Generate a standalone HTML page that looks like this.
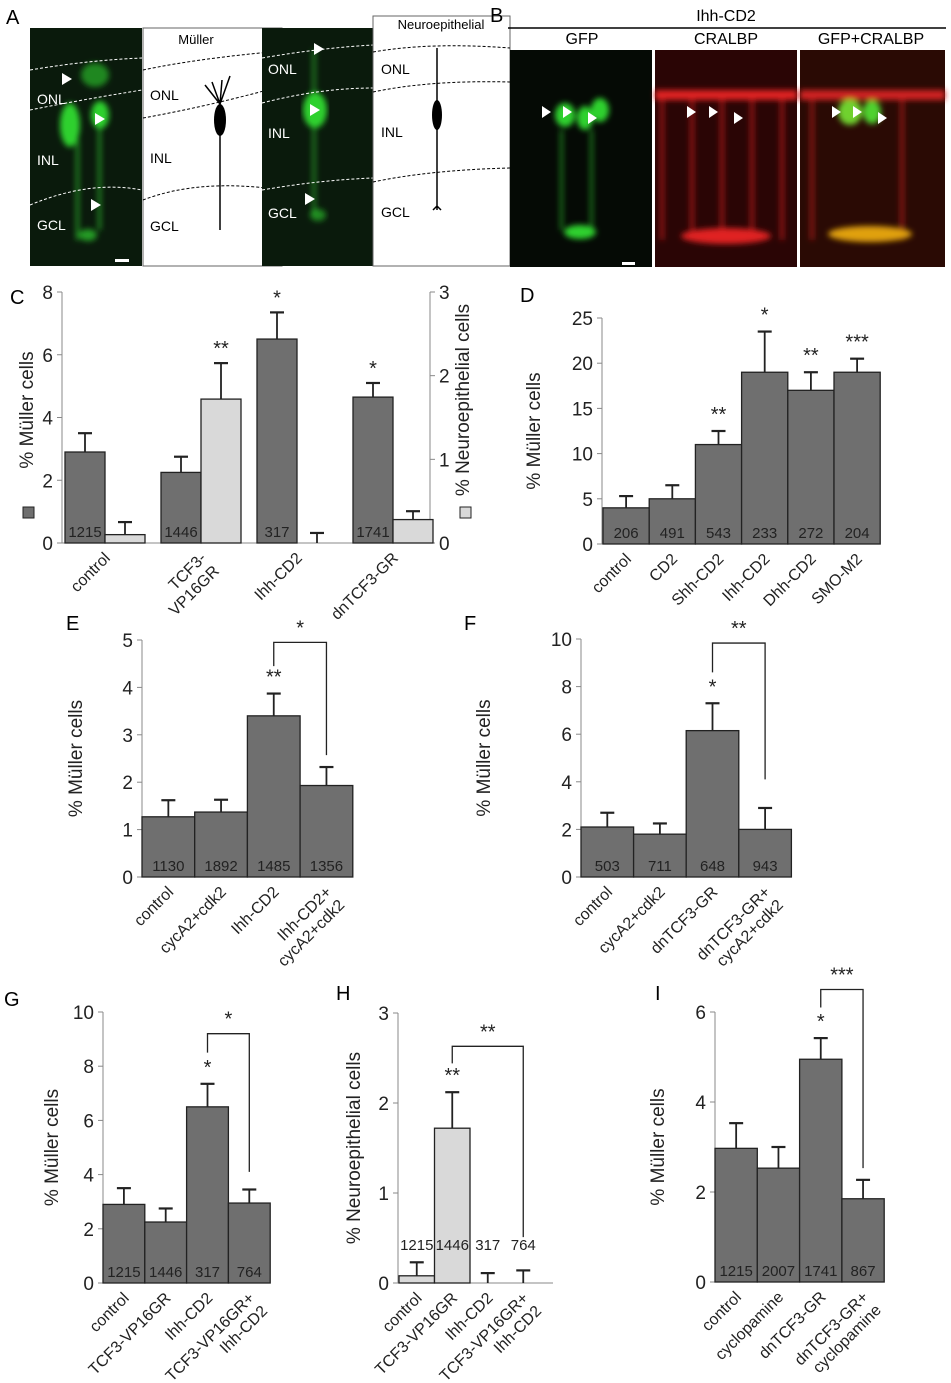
<!DOCTYPE html>
<html><head><meta charset="utf-8"><style>
html,body{margin:0;padding:0;background:#fff}
svg{display:block;font-family:"Liberation Sans",Arial,sans-serif}
</style></head><body>
<svg id="fig" width="951" height="1383" viewBox="0 0 951 1383">
<defs>
<filter id="blur3"><feGaussianBlur stdDeviation="3"/></filter>
</defs>
<!-- Panel A -->
<text x="6" y="24" font-size="20">A</text>
<g>
<rect x="30" y="28" width="112" height="238" fill="#0a1a0c"/>
<g filter="url(#blur3)" fill="#2fd12f">
<ellipse cx="70" cy="125" rx="10" ry="22"/><ellipse cx="100" cy="115" rx="9" ry="14"/><ellipse cx="95" cy="75" rx="14" ry="12" opacity=".6"/>
<rect x="76" y="140" width="3" height="100" opacity=".7"/><rect x="98" y="120" width="3" height="110" opacity=".7"/>
<ellipse cx="88" cy="235" rx="9" ry="6" opacity=".7"/>
</g>
<path d="M30 70 Q90 60 142 58 M30 110 Q80 100 142 90 M30 205 Q90 180 142 190" stroke="#fff" stroke-dasharray="3 2" fill="none"/>
<text x="37" y="104" fill="#fff" font-size="14">ONL</text><text x="37" y="165" fill="#fff" font-size="14">INL</text><text x="37" y="230" fill="#fff" font-size="14">GCL</text>
<polygon points="62,73 72,79 62,85" fill="#fff"/><polygon points="95,113 105,119 95,125" fill="#fff"/><polygon points="91,199 101,205 91,211" fill="#fff"/>
<rect x="115" y="259" width="14" height="3" fill="#fff"/>
</g>
<g>
<rect x="143" y="28" width="139" height="238" fill="#fff" stroke="#666"/>
<text x="196" y="44" font-size="13" text-anchor="middle">Müller</text>
<path d="M143 70 Q200 58 282 51 M143 118 Q210 106 282 86 M143 200 Q200 178 282 190" stroke="#000" stroke-dasharray="3 2" fill="none"/>
<text x="150" y="100" font-size="14">ONL</text><text x="150" y="163" font-size="14">INL</text><text x="150" y="231" font-size="14">GCL</text>
<ellipse cx="220" cy="120" rx="6" ry="16" fill="#000"/><path d="M220 100 L220 230 M220 104 L205 85 M220 104 L212 82 M220 104 L222 80 M220 104 L230 76" stroke="#000" stroke-width="1.5" fill="none"/>
</g>
<g>
<rect x="262" y="28" width="111" height="238" fill="#0a1a0c"/>
<g filter="url(#blur3)" fill="#2fd12f"><ellipse cx="315" cy="110" rx="12" ry="18"/><rect x="312" y="50" width="4" height="60" opacity=".5"/><rect x="312" y="125" width="4" height="90" opacity=".5"/><ellipse cx="318" cy="215" rx="8" ry="6" opacity=".6"/></g>
<path d="M262 58 Q320 48 373 45 M262 103 Q320 88 373 88 M262 190 Q320 180 373 178" stroke="#fff" stroke-dasharray="3 2" fill="none"/>
<text x="268" y="74" fill="#fff" font-size="14">ONL</text><text x="268" y="138" fill="#fff" font-size="14">INL</text><text x="268" y="218" fill="#fff" font-size="14">GCL</text>
<polygon points="314,43 324,49 314,55" fill="#fff"/><polygon points="310,104 320,110 310,116" fill="#fff"/><polygon points="305,193 315,199 305,205" fill="#fff"/>
</g>
<g>
<rect x="373" y="16" width="137" height="250" fill="#fff" stroke="#666"/>
<text x="441" y="29" font-size="13" text-anchor="middle">Neuroepithelial</text>
<path d="M373 52 Q430 42 510 48 M373 92 Q430 80 510 82 M373 182 Q430 170 510 168" stroke="#000" stroke-dasharray="3 2" fill="none"/>
<text x="381" y="74" font-size="14">ONL</text><text x="381" y="137" font-size="14">INL</text><text x="381" y="217" font-size="14">GCL</text>
<ellipse cx="437" cy="115" rx="5" ry="15" fill="#000"/><path d="M437 48 L437 210 M433 210 L437 206 L441 210" stroke="#000" stroke-width="1.5" fill="none"/>
</g>
<!-- Panel B -->
<text x="490" y="22" font-size="20">B</text>
<text x="726" y="21" font-size="16" text-anchor="middle">Ihh-CD2</text>
<line x1="508" y1="28" x2="946" y2="28" stroke="#000" stroke-width="1.5"/>
<text x="582" y="44" font-size="16" text-anchor="middle">GFP</text>
<text x="726" y="44" font-size="16" text-anchor="middle">CRALBP</text>
<text x="871" y="44" font-size="16" text-anchor="middle">GFP+CRALBP</text>
<g>
<rect x="510" y="50" width="142" height="217" fill="#050a05"/>
<g filter="url(#blur3)" fill="#2fd12f"><ellipse cx="565" cy="115" rx="10" ry="12"/><ellipse cx="585" cy="118" rx="8" ry="12"/><ellipse cx="600" cy="110" rx="9" ry="12"/><rect x="560" y="130" width="3" height="100" opacity=".6"/><rect x="590" y="130" width="3" height="100" opacity=".6"/><ellipse cx="580" cy="232" rx="16" ry="7"/></g>
<polygon points="542,106 551,112 542,118" fill="#fff"/><polygon points="563,106 572,112 563,118" fill="#fff"/><polygon points="588,112 597,118 588,124" fill="#fff"/>
<rect x="622" y="262" width="13" height="3" fill="#fff"/>
</g>
<g>
<rect x="655" y="50" width="142" height="217" fill="#2a0505"/>
<g filter="url(#blur3)" fill="#e02020"><rect x="655" y="90" width="142" height="10"/><rect x="660" y="100" width="4" height="140" opacity=".6"/><rect x="690" y="100" width="4" height="140" opacity=".6"/><rect x="720" y="100" width="4" height="140" opacity=".6"/><rect x="750" y="100" width="4" height="140" opacity=".6"/><rect x="780" y="100" width="4" height="140" opacity=".6"/><ellipse cx="726" cy="236" rx="45" ry="8"/></g>
<polygon points="687,106 696,112 687,118" fill="#fff"/><polygon points="709,106 718,112 709,118" fill="#fff"/><polygon points="734,112 743,118 734,124" fill="#fff"/>
</g>
<g>
<rect x="800" y="50" width="145" height="217" fill="#2a0a04"/>
<g filter="url(#blur3)"><rect x="800" y="90" width="145" height="10" fill="#d02020"/><rect x="810" y="100" width="4" height="140" fill="#d02020" opacity=".6"/><rect x="900" y="100" width="4" height="140" fill="#d02020" opacity=".6"/><ellipse cx="850" cy="112" rx="12" ry="13" fill="#6fd12f"/><ellipse cx="872" cy="112" rx="9" ry="12" fill="#4fd12f"/><ellipse cx="870" cy="234" rx="42" ry="8" fill="#e0a010"/></g>
<polygon points="832,106 841,112 832,118" fill="#fff"/><polygon points="853,106 862,112 853,118" fill="#fff"/><polygon points="878,112 887,118 878,124" fill="#fff"/>
</g>
<text x="10" y="304" font-size="20">C</text>
<text x="520" y="302" font-size="20">D</text>
<text x="66" y="630" font-size="20">E</text>
<text x="464" y="630" font-size="20">F</text>
<text x="4" y="1006" font-size="20">G</text>
<text x="336" y="1000" font-size="20">H</text>
<text x="655" y="1000" font-size="20">I</text>
</svg>
<script>
// Panel C data
const C_cats=['control','TCF3-|VP16GR','Ihh-CD2','dnTCF3-GR'];
const C_muller=[2.9,2.25,6.5,4.65];
const C_mullerErr=[3.5,2.75,7.35,5.1];
const C_neuro=[0.1,1.72,0,0.28];
const C_neuroErr=[0.25,2.15,0.12,0.38];
const C_n=['1215','1446','317','1741'];
const C_stars=['','','*','*'];
const C_neuroStars=['','**','',''];
const C_ticks=[0,2,4,6,8];
const C_ticks2=[0,1,2,3];
// Panel D
const D_cats=['control','CD2','Shh-CD2','Ihh-CD2','Dhh-CD2','SMO-M2'];
const D_vals=[4,5,11,19,17,19];
const D_err=[5.3,6.5,12.5,23.5,19,20.5];
const D_n=['206','491','543','233','272','204'];
const D_stars=['','','**','*','**','***'];
const D_ticks=[0,5,10,15,20,25];
// Panel E
const E_cats=['control','cycA2+cdk2','Ihh-CD2','Ihh-CD2+|cycA2+cdk2'];
const E_vals=[1.27,1.37,3.4,1.93];
const E_err=[1.62,1.63,3.87,2.32];
const E_n=['1130','1892','1485','1356'];
const E_stars=['','','**',''];
const E_ticks=[0,1,2,3,4,5];
// Panel F
const F_cats=['control','cycA2+cdk2','dnTCF3-GR','dnTCF3-GR+|cycA2+cdk2'];
const F_vals=[2.1,1.8,6.15,2.0];
const F_err=[2.7,2.25,7.3,2.9];
const F_n=['503','711','648','943'];
const F_stars=['','','*',''];
const F_ticks=[0,2,4,6,8,10];
// Panel G
const G_cats=['control','TCF3-VP16GR','Ihh-CD2','TCF3-VP16GR+|Ihh-CD2'];
const G_vals=[2.9,2.25,6.5,2.95];
const G_err=[3.5,2.75,7.35,3.45];
const G_n=['1215','1446','317','764'];
const G_stars=['','','*',''];
const G_ticks=[0,2,4,6,8,10];
// Panel H
const H_cats=['control','TCF3-VP16GR','Ihh-CD2','TCF3-VP16GR+|Ihh-CD2'];
const H_vals=[0.08,1.72,0,0];
const H_err=[0.23,2.12,0.11,0.14];
const H_n=['1215','1446','317','764'];
const H_stars=['','**','',''];
const H_ticks=[0,1,2,3];
// Panel I
const I_cats=['control','cyclopamine','dnTCF3-GR','dnTCF3-GR+|cyclopamine'];
const I_vals=[2.97,2.53,4.95,1.85];
const I_err=[3.53,3.0,5.42,2.27];
const I_n=['1215','2007','1741','867'];
const I_stars=['','','*',''];
const I_ticks=[0,2,4,6];

const NS='http://www.w3.org/2000/svg';
const svg=document.getElementById('fig');
function mk(tag,attrs,parent){const e=document.createElementNS(NS,tag);for(const k in attrs)e.setAttribute(k,attrs[k]);(parent||svg).appendChild(e);return e;}

function axis(g,ax,y0,yTop,max,ticks,side){
  const sc=v=>y0-(v/max)*(y0-yTop);
  const l=mk('line',{x1:ax,y1:y0,x2:ax,y2:yTop,stroke:'#888','stroke-width':1},g);
  
  
  ticks.forEach(t=>{
    const y=sc(t);
    mk('line',{x1:ax,y1:y,x2:ax+(side>0?5:-5),y2:y,stroke:'#888'},g);
    const tx=mk('text',{x:ax+(side>0?9:-9),y:y+7,'font-size':19,'text-anchor':side>0?'start':'end',fill:'#222'},g);
    tx.textContent=t;
    
    
  });
  return sc;
}
function ytitle(g,x,y,txt){
  const t=mk('text',{x:x,y:y,'font-size':19,'text-anchor':'middle',transform:'rotate(-90 '+x+' '+y+')',fill:'#222'},g);
  t.textContent=txt;
  
  
  return t;
}
function catLabel(g,cx,y0,label){
  const lines=label.split('|');
  lines.forEach((ln,k)=>{
    const ax=cx+6+k*13, ay=y0+16+k*13;
    const t=mk('text',{x:ax,y:ay,'font-size':16,'text-anchor':'end',transform:'rotate(-45 '+ax+' '+ay+')',fill:'#222'},g);
    t.textContent=ln;
    
    
  });
}
function barErr(g,x,w,v,e,sc,y0,fill,name){
  const top=sc(v);
  const r=mk('rect',{x:x,y:top,width:w,height:Math.max(0,y0-top),fill:fill,stroke:'#222','stroke-width':1.3},g);
  
  
  const cx=x+w/2;
  mk('line',{x1:cx,y1:top,x2:cx,y2:sc(e),stroke:'#222','stroke-width':1.8},g);
  mk('line',{x1:cx-7,y1:sc(e),x2:cx+7,y2:sc(e),stroke:'#222','stroke-width':2.2},g);
}
function txt(g,x,y,s,size,name){
  const t=mk('text',{x:x,y:y,'font-size':size,'text-anchor':'middle',fill:'#222'},g);
  t.textContent=s;
  
  
}
function panel(o){
  const g=mk('g',{});
  
  
  const sc=axis(g,o.ax,o.y0,o.yTop,o.max,o.ticks,-1);
  mk('line',{x1:o.ax,y1:o.y0,x2:o.x0+o.w*o.vals.length+(o.extra||0),y2:o.y0,stroke:'#888'},g);
  ytitle(g,o.titleX,(o.y0+o.yTop)/2,o.title||'% Müller cells');
  o.vals.forEach((v,i)=>{
    const x=o.x0+i*o.w;
    barErr(g,x,o.w,v,o.err[i],sc,o.y0,o.fill||'#6f6f6f','bar-'+i);
    if(o.nAbove) txt(g,x+o.w/2,o.y0-33,o.n[i],15,'n-label');
    else txt(g,x+o.w/2,o.y0-6,o.n[i],15,'n-label');
    if(o.stars[i]) txt(g,x+o.w/2,sc(o.err[i])-10,o.stars[i],20,'significance-star');
    catLabel(g,x+o.w/2,o.y0,o.cats[i]);
  });
  if(o.br){
    const [i,j,lvl,li,lj,st]=o.br;
    const xi=o.x0+(i+0.5)*o.w, xj=o.x0+(j+0.5)*o.w;
    const p=mk('path',{d:`M${xi} ${sc(li)} L${xi} ${sc(lvl)} L${xj} ${sc(lvl)} L${xj} ${sc(lj)}`,fill:'none',stroke:'#222','stroke-width':1.3},g);
    
    
    txt(g,(xi+xj)/2,sc(lvl)-8,st,20,'bracket-star');
  }
  return {g,sc};
}
// Panel C
(function(){
  const g=mk('g',{});
  
  
  const ax=62,y0=543,yTop=292,ax2=430;
  const sc=axis(g,ax,y0,yTop,8,C_ticks,-1);
  const sc2=axis(g,ax2,y0,yTop,3,C_ticks2,1);
  mk('line',{x1:ax,y1:y0,x2:ax2,y2:y0,stroke:'#888'},g);
  ytitle(g,33,410,'% Müller cells');
  ytitle(g,469,400,'% Neuroepithelial cells');
  const s1=mk('rect',{x:23,y:507,width:11,height:11,fill:'#6f6f6f',stroke:'#222'},g);
  
  
  const s2=mk('rect',{x:460,y:507,width:11,height:11,fill:'#d9d9d9',stroke:'#222'},g);
  
  
  const gs=96,bw=40,x0=65;
  C_muller.forEach((v,i)=>{
    const x=x0+i*gs;
    barErr(g,x,bw,v,C_mullerErr[i],sc,y0,'#6f6f6f','muller-bar-'+i);
    barErr(g,x+bw,bw,C_neuro[i],C_neuroErr[i],sc2,y0,'#d9d9d9','neuro-bar-'+i);
    txt(g,x+bw/2,y0-6,C_n[i],15,'n-label');
    if(C_stars[i]) txt(g,x+bw/2,sc(C_mullerErr[i])-8,C_stars[i],20,'significance-star');
    if(C_neuroStars[i]) txt(g,x+bw*1.5,sc2(C_neuroErr[i])-8,C_neuroStars[i],20,'significance-star');
    catLabel(g,x+bw,y0,C_cats[i]);
  });
})();
panel({name:'panel-d-chart',ax:602,y0:544,yTop:318,max:25,ticks:D_ticks,x0:603,w:46.2,vals:D_vals,err:D_err,n:D_n,stars:D_stars,cats:D_cats,titleX:540});
panel({name:'panel-e-chart',ax:142,y0:877,yTop:640,max:5,ticks:E_ticks,x0:142,w:52.7,vals:E_vals,err:E_err,n:E_n,stars:E_stars,cats:E_cats,titleX:82,br:[2,3,4.95,4.45,2.57,'*']});
panel({name:'panel-f-chart',ax:581,y0:877,yTop:639,max:10,ticks:F_ticks,x0:581,w:52.6,vals:F_vals,err:F_err,n:F_n,stars:F_stars,cats:F_cats,titleX:490,br:[2,3,9.83,8.6,4.1,'**']});
panel({name:'panel-g-chart',ax:103,y0:1283,yTop:1012,max:10,ticks:G_ticks,x0:103,w:41.8,vals:G_vals,err:G_err,n:G_n,stars:G_stars,cats:G_cats,titleX:58,br:[2,3,9.2,8.5,4.1,'*']});
panel({name:'panel-h-chart',ax:398,y0:1283,yTop:1013,max:3,ticks:H_ticks,x0:399,w:35.5,vals:H_vals,err:H_err,n:H_n,stars:H_stars,cats:H_cats,titleX:360,fill:'#d9d9d9',nAbove:true,extra:12,title:'% Neuroepithelial cells',br:[1,3,2.63,2.44,0.51,'**']});
panel({name:'panel-i-chart',ax:715,y0:1282,yTop:1012,max:6,ticks:I_ticks,x0:715,w:42.3,vals:I_vals,err:I_err,n:I_n,stars:I_stars,cats:I_cats,titleX:664,br:[2,3,6.5,6.1,2.53,'***']});
</script>
</body></html>
